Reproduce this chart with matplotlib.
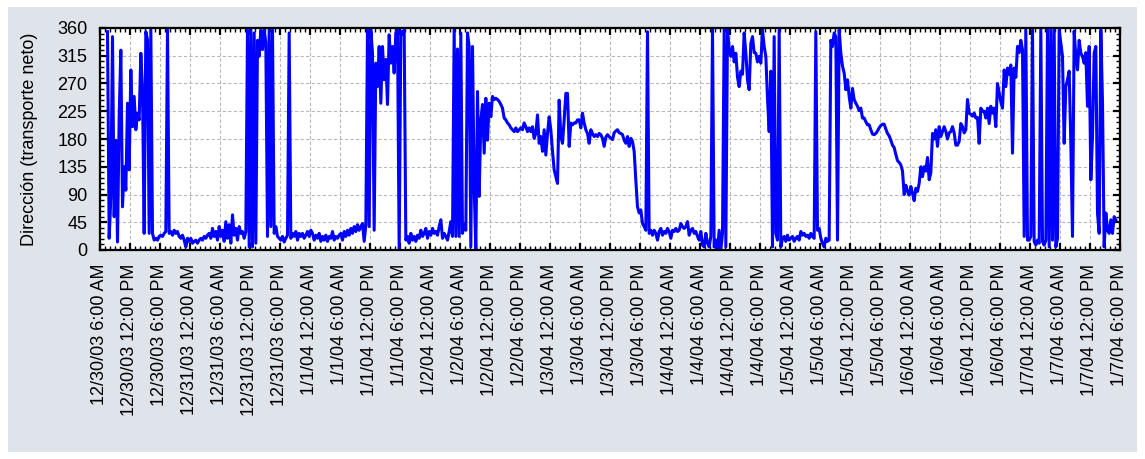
import matplotlib
matplotlib.use("Agg")
import matplotlib.pyplot as plt
import matplotlib.dates as mdates
from matplotlib.ticker import MultipleLocator, FuncFormatter
from matplotlib.patches import Rectangle
import pandas as pd

# Net transport direction (degrees), one reading every 20 minutes
start_time = "2003-12-30 07:30"
sample_step = "20min"
direction = [
    354, 19, 84, 346, 54, 178, 13, 216, 324, 70, 135, 97, 238, 130, 292, 200, 249, 195,
    222, 211, 319, 260, 27, 354, 341, 27, 357, 27, 16, 19, 16, 22, 24, 22, 27, 30,
    357, 27, 30, 24, 32, 27, 30, 22, 19, 24, 16, 5, 19, 14, 19, 11, 14, 16,
    11, 16, 19, 16, 22, 19, 24, 27, 19, 35, 22, 30, 16, 38, 22, 32, 14, 46,
    19, 41, 11, 57, 24, 35, 16, 38, 27, 30, 19, 30, 357, 5, 357, 5, 352, 11,
    340, 314, 357, 325, 357, 336, 22, 357, 38, 357, 27, 38, 22, 19, 16, 22, 13, 19,
    24, 352, 19, 27, 22, 30, 16, 27, 22, 27, 19, 24, 30, 22, 32, 27, 16, 24,
    19, 27, 14, 22, 16, 24, 14, 22, 19, 30, 16, 22, 19, 24, 27, 16, 30, 22,
    32, 24, 35, 27, 38, 30, 41, 32, 38, 43, 14, 41, 357, 38, 357, 319, 32, 303,
    265, 330, 238, 330, 276, 309, 236, 349, 303, 330, 287, 352, 357, 0, 355, 350, 357, 16,
    22, 11, 27, 16, 22, 14, 24, 19, 32, 22, 27, 35, 19, 30, 24, 35, 27, 30,
    24, 38, 49, 19, 27, 22, 16, 30, 46, 22, 357, 22, 326, 22, 352, 27, 43, 32,
    352, 330, 5, 330, 103, 0, 257, 87, 211, 236, 157, 246, 178, 238, 216, 249, 244, 246,
    244, 241, 236, 230, 214, 211, 206, 203, 198, 195, 192, 198, 192, 195, 198, 195, 206, 200,
    192, 198, 192, 200, 181, 189, 219, 173, 184, 160, 195, 154, 189, 216, 195, 160, 130, 119,
    108, 243, 184, 173, 211, 254, 254, 168, 206, 203, 206, 206, 211, 211, 198, 222, 206, 195,
    189, 173, 195, 189, 184, 187, 184, 189, 187, 181, 168, 183, 187, 184, 181, 179, 190, 193,
    195, 190, 189, 187, 178, 173, 184, 168, 181, 176, 160, 113, 70, 60, 65, 43, 38, 32,
    354, 27, 32, 24, 32, 27, 16, 30, 35, 24, 30, 27, 35, 30, 19, 32, 30, 35,
    30, 32, 43, 38, 35, 38, 46, 24, 32, 35, 27, 30, 22, 16, 30, 8, 5, 27,
    11, 5, 22, 357, 5, 16, 0, 32, 0, 27, 357, 5, 357, 325, 314, 330, 305, 319,
    280, 265, 290, 285, 352, 320, 276, 260, 335, 346, 320, 319, 305, 314, 303, 357, 330, 314,
    246, 192, 290, 5, 346, 27, 16, 357, 5, 19, 22, 14, 24, 16, 19, 22, 14, 19,
    22, 16, 30, 24, 27, 22, 24, 19, 27, 22, 19, 354, 32, 35, 19, 11, 5, 19,
    14, 16, 340, 330, 352, 346, 16, 357, 319, 298, 287, 260, 276, 249, 230, 262, 244, 238,
    233, 226, 230, 214, 214, 208, 203, 203, 195, 188, 187, 189, 193, 198, 202, 204, 204, 196,
    189, 185, 178, 170, 166, 155, 145, 142, 138, 128, 90, 105, 95, 89, 103, 92, 80, 100,
    95, 108, 135, 119, 135, 128, 150, 114, 125, 189, 180, 195, 168, 200, 184, 192, 200, 192,
    180, 190, 192, 200, 190, 170, 170, 176, 205, 200, 190, 195, 244, 222, 220, 217, 222, 214,
    215, 173, 230, 225, 225, 214, 230, 205, 233, 222, 230, 200, 270, 255, 240, 230, 292, 265,
    295, 285, 300, 157, 295, 280, 330, 320, 340, 325, 22, 357, 16, 16, 22, 357, 14, 8,
    16, 11, 357, 14, 8, 16, 357, 5, 357, 16, 357, 5, 19, 357, 335, 314, 173, 265,
    276, 290, 173, 22, 355, 314, 292, 340, 319, 314, 303, 320, 233, 330, 114, 184, 319, 330,
    60, 27, 357, 240, 5, 60, 32, 27, 49, 27, 54, 49,
]

x_start = "2003-12-30 06:00"
x_end = "2004-01-07 18:00"
y_ticks = [0, 45, 90, 135, 180, 225, 270, 315, 360]
y_label = "Dirección (transporte neto)"

times = pd.date_range(start_time, periods=len(direction), freq=sample_step)

plt.rcParams["font.family"] = ["Liberation Sans", "DejaVu Sans"]

W, H = 1145, 459
fig = plt.figure(figsize=(W / 100, H / 100), dpi=100)
fig.patch.set_facecolor("white")
fig.patches.append(Rectangle((8 / W, 7 / H), 1129 / W, 445 / H,
                             transform=fig.transFigure, facecolor="#dfe3ea",
                             edgecolor="none", zorder=-10))

ax = fig.add_axes([100 / W, 1 - 250 / H, 1020 / W, 222 / H])
ax.set_facecolor("white")
ax.plot(times, direction, color="#0000ff", linewidth=2.2, solid_joinstyle="round")

ax.set_xlim(pd.Timestamp(x_start), pd.Timestamp(x_end))
ax.set_ylim(0, 360)
ax.set_yticks(y_ticks)
ax.yaxis.set_minor_locator(MultipleLocator(9))

ax.xaxis.set_major_locator(mdates.HourLocator(byhour=[0, 6, 12, 18]))
ax.xaxis.set_minor_locator(mdates.HourLocator(interval=1))


def date_label(value, pos):
    d = mdates.num2date(value)
    hour12 = d.hour % 12 or 12
    half = "AM" if d.hour < 12 else "PM"
    return f"{d.month}/{d.day}/{d:%y} {hour12}:{d:%M} {half}"


ax.xaxis.set_major_formatter(FuncFormatter(date_label))
ax.tick_params(axis="x", which="major", labelrotation=90, labelsize=13, pad=10)
ax.tick_params(axis="y", which="major", labelsize=13, pad=9)
ax.tick_params(which="both", direction="in", top=True, right=True, color="black")
ax.tick_params(which="major", length=5, width=1.6)
ax.tick_params(which="minor", length=3, width=1.0)

ax.grid(True, which="major", color="#b8b8b8", linestyle=(0, (3, 2)), linewidth=0.8)
ax.set_axisbelow(True)
for sp in ax.spines.values():
    sp.set_linewidth(1.6)
    sp.set_color("black")

ax.set_ylabel(y_label, fontsize=13)
ax.yaxis.set_label_coords(-62 / 1020, 0.5)

fig.savefig("out.png", dpi=100, facecolor=fig.get_facecolor())
